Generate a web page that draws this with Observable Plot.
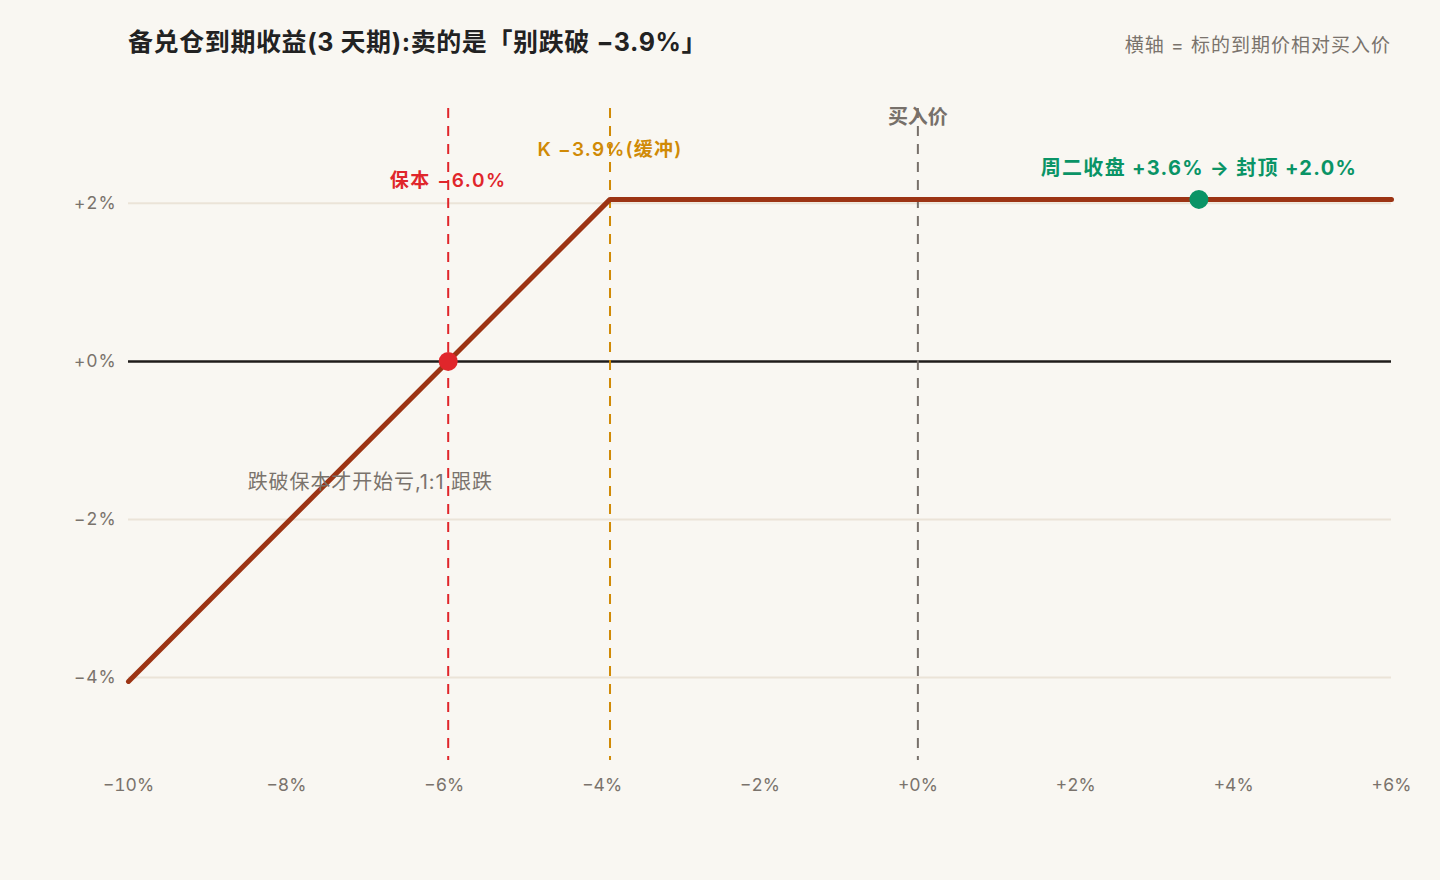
<!DOCTYPE html>
<html><head><meta charset="utf-8">
<script src="https://cdn.jsdelivr.net/npm/d3@7"></script>
<script src="https://cdn.jsdelivr.net/npm/@observablehq/plot@0.6"></script>
<style>
html,body{margin:0;padding:0;background:#f9f7f2;}
body{width:1440px;height:880px;position:relative;overflow:hidden;font-family:Inter,"Noto Sans CJK SC",sans-serif;}
#hdr{position:relative;height:80px;}
#title{position:absolute;left:128px;top:22px;font-size:25px;font-weight:700;color:#222;letter-spacing:0.6px;font-family:Inter,"Noto Sans CJK SC",sans-serif;white-space:nowrap;}
#sub{position:absolute;right:49px;top:30px;font-size:19px;color:#7a736c;letter-spacing:1px;font-family:Inter,"Noto Sans CJK SC",sans-serif;white-space:nowrap;}
</style></head>
<body>
<div id="hdr"><div id="title">备兑仓到期收益(3 天期):卖的是「别跌破 −3.9%」</div><div id="sub">横轴 = 标的到期价相对买入价</div></div>
<div id="chart"></div>
<script>
const payoffX = [-10, -3.9, 6];
const payoffY = [-4.05, 2.05, 2.05];
const xTicks = [-10, -8, -6, -4, -2, 0, 2, 4, 6];
const yTicks = [-4, -2, 0, 2];
const refX = [-5.95, -3.9, 0];
const refColor = ["#e0262b", "#d08a06", "#77706a"];
const labelText = ["保本 −6.0%", "K −3.9%(缓冲)", "买入价", "周二收盘 +3.6% → 封顶 +2.0%"];
const labelX = [-5.95, -3.9, 0, 3.56];
const labelY = [2.28, 2.68, 3.09, 2.44];
const labelColor = ["#e0262b", "#d08a06", "#77706a", "#0a9466"];
const dotX = [-5.95, 3.56];
const dotY = [0, 2.05];
const dotColor = ["#e0262b", "#0a9466"];
const noteText = "跌破保本才开始亏,1:1 跟跌";
const noteX = -8.49, noteY = -1.53;

const fmt = v => (v > 0 ? "+" : v < 0 ? "−" : "+") + Math.abs(v) + "%";
const payoff = payoffX.map((x, i) => ({x, y: payoffY[i]}));
const refs = refX.map((x, i) => ({x, c: refColor[i]}));
const labels = labelText.map((t, i) => ({t, x: labelX[i], y: labelY[i], c: labelColor[i]}));
const dots = dotX.map((x, i) => ({x, y: dotY[i], c: dotColor[i]}));

const chart = Plot.plot({
  width: 1440, height: 800,
  marginLeft: 128, marginRight: 49, marginTop: 28, marginBottom: 120,
  style: {background: "transparent", fontFamily: 'Inter,"Noto Sans CJK SC",sans-serif', fontSize: "17px"},
  x: {domain: [-10, 6]},
  y: {domain: [-5.05, 3.2]},
  marks: [
    Plot.ruleY(yTicks.filter(d => d !== 0), {stroke: "#ebe4d8", strokeWidth: 2}),
    Plot.ruleY([0], {stroke: "#1f1c1a", strokeWidth: 2.5}),
    Plot.ruleX(refs, {x: "x", stroke: "c", strokeWidth: 2, strokeDasharray: "10,8"}),
    Plot.line(payoff, {x: "x", y: "y", stroke: "#9c3414", strokeWidth: 5, strokeLinecap: "round", strokeLinejoin: "round"}),
    Plot.dot(dots, {x: "x", y: "y", fill: "c", r: 9.5, stroke: null}),
    Plot.text(labels.slice(0, 2), {x: "x", y: "y", text: "t", fill: "c", fontSize: 19, fontWeight: 600}),
    Plot.text(labels.slice(2, 3), {x: "x", y: "y", text: "t", fill: "c", fontSize: 20, fontWeight: 600}),
    Plot.text(labels.slice(3), {x: "x", y: "y", text: "t", fill: "c", fontSize: 20, fontWeight: 700}),
    Plot.text([noteText], {x: noteX, y: noteY, text: d => d, textAnchor: "start", fill: "#7a736c", fontSize: 20}),
    Plot.axisX(xTicks, {tickSize: 0, tickPadding: 18, tickFormat: fmt, fill: "#7a736c", fontSize: 17.5, label: null}),
    Plot.axisY(yTicks, {tickSize: 0, tickPadding: 12, tickFormat: fmt, fill: "#7a736c", fontSize: 17.5, label: null})
  ]
});
const spacing = {};
spacing[labelText[0]] = "1.6px";
spacing[labelText[1]] = "1.2px";
spacing[labelText[3]] = "1.3px";
spacing[noteText] = "0.9px";
d3.select(chart).selectAll("text").each(function() {
  const s = spacing[this.textContent];
  if (s) { this.style.letterSpacing = s; return; }
  const g = this.closest("[text-anchor]");
  if (/^[+−]\d+%$/.test(this.textContent) && g && g.getAttribute("text-anchor") === "end") this.style.letterSpacing = "0.9px";
});
document.getElementById("chart").appendChild(chart);
</script>
</body></html>
